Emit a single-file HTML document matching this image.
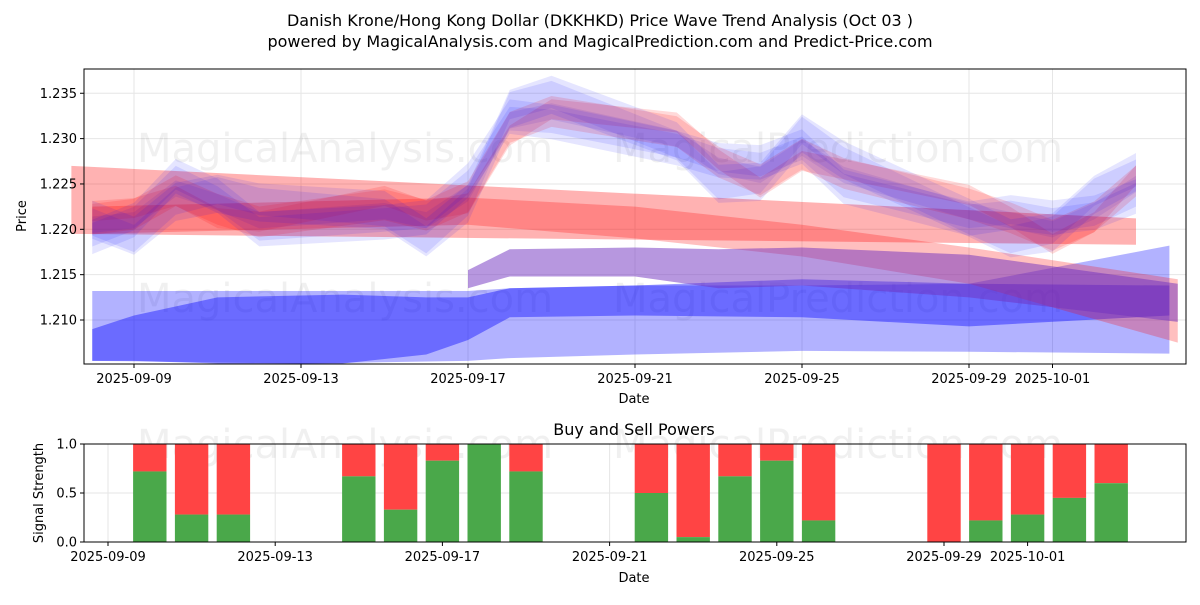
<!DOCTYPE html>
<html><head><meta charset="utf-8"><style>
body{margin:0;background:#fff;font-family:"Liberation Sans","DejaVu Sans",sans-serif}
svg text{font-family:"DejaVu Sans","Liberation Sans",sans-serif}
</style></head><body>
<svg id="c" width="1200" height="600" viewBox="0 0 1200 600">
<text x="600" y="26" text-anchor="middle" font-size="16">Danish Krone/Hong Kong Dollar (DKKHKD) Price Wave Trend Analysis (Oct 03 )</text>
<text x="600" y="47" text-anchor="middle" font-size="16">powered by MagicalAnalysis.com and MagicalPrediction.com and Predict-Price.com</text>
<g id="gtop"></g>
<g id="gbot"></g>
</svg>
<script>
// --- data ---
const dayLabels=["2025-09-09","2025-09-13","2025-09-17","2025-09-21","2025-09-25","2025-09-29","2025-10-01"];
const dayLabelOffsets=[0,4,8,12,16,20,22];
const priceTicks=[1.210,1.215,1.220,1.225,1.230,1.235];
const waveDays=[-1,0,1,2,3,6,7,8,9,10,13,14,15,16,17,20,21,22,23,24];
const waveCenter=[1.2205,1.221,1.2245,1.223,1.221,1.222,1.221,1.224,1.232,1.233,1.230,1.227,1.226,1.229,1.226,1.222,1.221,1.220,1.222,1.225];
const waveShift=[0,0.0018,-0.0012,0.0022,-0.0008,0.0014,-0.002];
const redBand1Days=[-1.5,24]; const redBand1Lo=[1.2195,1.2183]; const redBand1Hi=[1.227,1.2212];
const redBand2Days=[-1,8,12,16,20,25]; const redBand2Lo=[1.2195,1.2205,1.219,1.217,1.214,1.2075]; const redBand2Hi=[1.2225,1.2235,1.2225,1.2205,1.218,1.2145];
const purpDays=[8,9,12,14,16,20,25]; const purpLo=[1.2135,1.2148,1.2148,1.2135,1.2138,1.2125,1.2098]; const purpHi=[1.2155,1.2178,1.218,1.2178,1.218,1.2172,1.214];
const blueBig1Days=[-1,4,8,9,12,16,20,24.8]; const blueBig1Lo=[1.2055,1.2052,1.2055,1.2058,1.2062,1.2066,1.2065,1.2063]; const blueBig1Hi=[1.2132,1.2132,1.2132,1.2135,1.2138,1.2138,1.214,1.2182];
const blueBig2Days=[-1,0,2,5,7,8,9,12,16,20,24.8]; const blueBig2Lo=[1.2055,1.2055,1.2052,1.2052,1.2062,1.2078,1.2103,1.2105,1.2103,1.2093,1.2105]; const blueBig2Hi=[1.209,1.2105,1.2125,1.2128,1.2125,1.2125,1.2135,1.2138,1.2145,1.214,1.2138];
const sigDates=[1,2,3,6,7,8,9,10,13,14,15,16,17,20,21,22,23,24];
const buyPower=[0.72,0.28,0.28,0.67,0.33,0.83,1.0,0.72,0.5,0.05,0.67,0.83,0.22,0.0,0.22,0.28,0.45,0.6];
const sigTicks=[0,0.5,1.0];
// --- axes ---
const NS="http://www.w3.org/2000/svg";
function el(t,a,p){const e=document.createElementNS(NS,t);for(const k in a)e.setAttribute(k,a[k]);p.appendChild(e);return e;}
const T={x0:84,x1:1186,y0:69,y1:364};
const xT=d=>134+d*41.75;
const yT=v=>364-(v-1.20515)/0.001*9.07;
const B={x0:84,x1:1186,y0:444,y1:542};
const xB=d=>108+d*41.8;
const yB=v=>542-v*98;
const gTop=document.getElementById('gtop'),gBot=document.getElementById('gbot');
function wm(g,y,s){
 let t=el('text',{x:345,y:y,'text-anchor':'middle','font-size':s,fill:'#000','fill-opacity':0.06},g);t.textContent='MagicalAnalysis.com';
 
 
 t=el('text',{x:838,y:y,'text-anchor':'middle','font-size':s,fill:'#000','fill-opacity':0.06},g);t.textContent='MagicalPrediction.com';
 
 
}
function band(days,lo,hi,fill,op,name){
 let d='';days.forEach((x,i)=>d+=(i?'L':'M')+xT(x)+','+yT(hi[i]));
 for(let i=days.length-1;i>=0;i--)d+='L'+xT(days[i])+','+yT(lo[i]);
 const p=el('path',{d:d+'Z',fill:fill,'fill-opacity':op},gTop);
 
 
}
dayLabelOffsets.forEach(o=>el('line',{x1:xT(o),x2:xT(o),y1:T.y0,y2:T.y1,stroke:'#e6e6e6'},gTop));
priceTicks.forEach(v=>el('line',{x1:T.x0,x2:T.x1,y1:yT(v),y2:yT(v),stroke:'#e6e6e6'},gTop));
wm(gTop,162,40);wm(gTop,312,40);
band(blueBig1Days,blueBig1Lo,blueBig1Hi,'#0000ff',0.3,'blue-band-wide');
band(blueBig2Days,blueBig2Lo,blueBig2Hi,'#0000ff',0.4,'blue-band-low');
band(redBand1Days,redBand1Lo,redBand1Hi,'#ff0000',0.3,'red-band-flat');
band(redBand2Days,redBand2Lo,redBand2Hi,'#ff0000',0.25,'red-band-down');
band(purpDays,purpLo,purpHi,'#7030c0',0.5,'purple-band');
waveShift.forEach((s,k)=>{
 const hw=0.0009+k*0.0002;
 const lo=waveCenter.map((v,i)=>v+s*Math.sin(i*1.3+k)-hw);
 const hi=waveCenter.map((v,i)=>v+s*Math.sin(i*1.3+k)+hw);
 band(waveDays,lo,hi,k%3==1?'#ff0000':'#0000ff',k%3==1?0.15:0.1,'wave-band');
});
el('rect',{x:T.x0,y:T.y0,width:T.x1-T.x0,height:T.y1-T.y0,fill:'none',stroke:'#000'},gTop);
dayLabels.forEach((l,i)=>{const x=xT(dayLabelOffsets[i]);el('line',{x1:x,x2:x,y1:T.y1,y2:T.y1+4,stroke:'#000'},gTop);
 const t=el('text',{x:x,y:T.y1+19,'text-anchor':'middle','font-size':13},gTop);t.textContent=l;
 
 });
priceTicks.forEach(v=>{const y=yT(v);el('line',{x1:T.x0-4,x2:T.x0,y1:y,y2:y,stroke:'#000'},gTop);
 const t=el('text',{x:T.x0-7,y:y+4.5,'text-anchor':'end','font-size':13},gTop);t.textContent=v.toFixed(3);
 
 });
let t=el('text',{x:634,y:403,'text-anchor':'middle','font-size':13},gTop);t.textContent='Date';


t=el('text',{x:26,y:216,'text-anchor':'middle','font-size':13,transform:'rotate(-90 26 216)'},gTop);t.textContent='Price';


// bottom
dayLabelOffsets.forEach(o=>el('line',{x1:xB(o),x2:xB(o),y1:B.y0,y2:B.y1,stroke:'#e6e6e6'},gBot));
sigTicks.forEach(v=>el('line',{x1:B.x0,x2:B.x1,y1:yB(v),y2:yB(v),stroke:'#e6e6e6'},gBot));
wm(gBot,458,40);
sigDates.forEach((d,i)=>{const x=xB(d)-16.7,w=33.4;
 let r=el('rect',{x:x,y:yB(1),width:w,height:yB(buyPower[i])-yB(1),fill:'#ff4444'},gBot);
 
 
 r=el('rect',{x:x,y:yB(buyPower[i]),width:w,height:yB(0)-yB(buyPower[i]),fill:'#4aa84a'},gBot);
 
 });
el('rect',{x:B.x0,y:B.y0,width:B.x1-B.x0,height:B.y1-B.y0,fill:'none',stroke:'#000'},gBot);
dayLabels.forEach((l,i)=>{const x=xB(dayLabelOffsets[i]);el('line',{x1:x,x2:x,y1:B.y1,y2:B.y1+4,stroke:'#000'},gBot);
 const t=el('text',{x:x,y:B.y1+19,'text-anchor':'middle','font-size':13},gBot);t.textContent=l;
 
 });
sigTicks.forEach(v=>{const y=yB(v);el('line',{x1:B.x0-4,x2:B.x0,y1:y,y2:y,stroke:'#000'},gBot);
 const t=el('text',{x:B.x0-7,y:y+4.5,'text-anchor':'end','font-size':13},gBot);t.textContent=v.toFixed(1);
 
 });
t=el('text',{x:634,y:435,'text-anchor':'middle','font-size':16},gBot);t.textContent='Buy and Sell Powers';


t=el('text',{x:634,y:582,'text-anchor':'middle','font-size':13},gBot);t.textContent='Date';


t=el('text',{x:43,y:493,'text-anchor':'middle','font-size':13,transform:'rotate(-90 43 493)'},gBot);t.textContent='Signal Strength';


</script>
</body></html>
